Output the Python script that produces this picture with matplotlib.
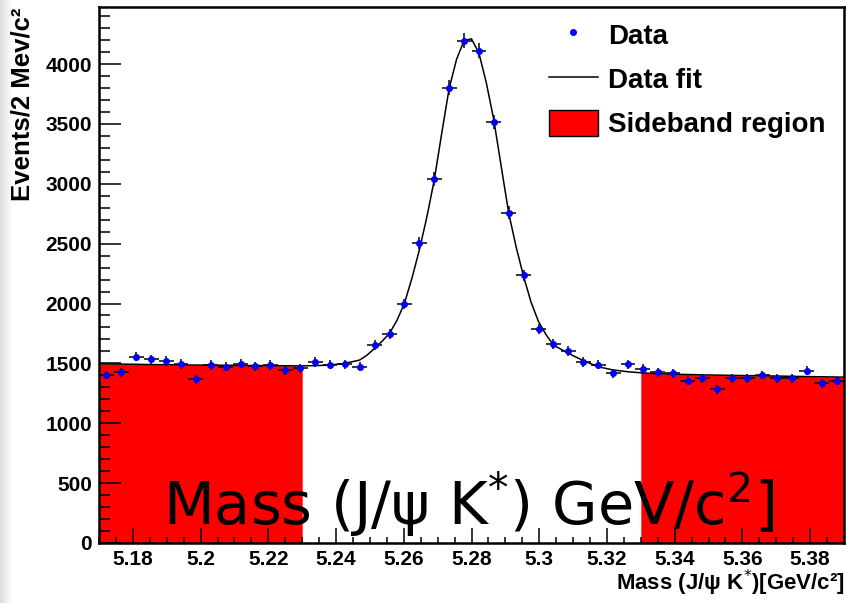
import numpy as np
import matplotlib
matplotlib.use("Agg")
import matplotlib.pyplot as plt
from matplotlib.lines import Line2D
from matplotlib.patches import Patch
from matplotlib.ticker import MultipleLocator

# histogram: 50 bins between 5.17 and 5.39 GeV
x_lo, x_hi, n_bins = 5.17, 5.39, 50
counts = [1403, 1425, 1556, 1534, 1520, 1495, 1367, 1486, 1472, 1497,
          1475, 1486, 1445, 1458, 1511, 1489, 1492, 1472, 1653, 1745,
          1996, 2508, 3040, 3802, 4195, 4111, 3518, 2758, 2236, 1785,
          1665, 1603, 1511, 1489, 1417, 1492, 1453, 1425, 1417, 1356,
          1375, 1283, 1375, 1375, 1403, 1375, 1375, 1439, 1334, 1353]

# fit curve (bin centres + a few extra points in the peak)
fit_at_centres = [1495, 1494, 1492, 1490, 1489, 1487, 1486, 1485, 1484, 1483,
                  1482, 1481, 1480, 1479, 1481, 1486, 1500, 1528, 1626, 1751,
                  2002, 2447, 3031, 3797, 4195, 4090, 3532, 2753, 2224, 1848,
                  1653, 1584, 1523, 1472, 1445, 1430, 1420, 1414, 1410, 1407,
                  1404, 1402, 1400, 1398, 1396, 1394, 1392, 1390, 1388, 1386]
fit_extra_x = [5.17, 5.2492, 5.2536, 5.2580, 5.2624, 5.2668, 5.2712, 5.2756,
               5.2800, 5.2844, 5.2888, 5.2932, 5.2976, 5.3020, 5.39]
fit_extra_y = [1496, 1570, 1685, 1860, 2210, 2720, 3420, 4040,
               4210, 3840, 3140, 2470, 2010, 1740, 1385]

sidebands = [(5.17, 5.23), (5.33, 5.39)]

edges = np.linspace(x_lo, x_hi, n_bins + 1)
centres = 0.5 * (edges[:-1] + edges[1:])
half_w = 0.5 * (edges[1] - edges[0])
counts = np.array(counts)

fit_x = np.concatenate([centres, fit_extra_x])
fit_y = np.concatenate([fit_at_centres, fit_extra_y])
order = np.argsort(fit_x)
fit_x, fit_y = fit_x[order], fit_y[order]

plt.rcParams['font.family'] = ['Liberation Sans', 'DejaVu Sans']

fig = plt.figure(figsize=(8.46, 6.03), dpi=100)

# grey strip at the far left (screenshot edge)
axg = fig.add_axes([0, 0, 12 / 846, 1])
axg.imshow(np.linspace(0.86, 1.0, 50).reshape(1, -1), cmap='gray', vmin=0, vmax=1,
           aspect='auto', extent=[0, 1, 0, 1])
axg.axis('off')

ax = fig.add_axes([99 / 846, 1 - 543 / 603, (844 - 99) / 846, (543 - 7) / 603])

# sideband regions filled under the fit
for a, b in sidebands:
    m = (fit_x > a) & (fit_x < b)
    xs = np.concatenate([[a], fit_x[m], [b]])
    ys = np.concatenate([[np.interp(a, fit_x, fit_y)], fit_y[m], [np.interp(b, fit_x, fit_y)]])
    ax.fill_between(xs, 0, ys, color='#ff0000', lw=0, zorder=1)

ax.plot(fit_x, fit_y, color='black', lw=1.1, zorder=3)
ax.errorbar(centres, counts, xerr=half_w, yerr=np.sqrt(counts), fmt='o', ms=4,
            mfc='#0000ff', mec='#0000ff', ecolor='black', elinewidth=1.1,
            capsize=0, zorder=4)

ax.set_xlim(x_lo, x_hi)
ax.set_ylim(0, 4476)
ax.xaxis.set_minor_locator(MultipleLocator(0.005))
ax.yaxis.set_major_locator(MultipleLocator(500))
ax.yaxis.set_minor_locator(MultipleLocator(100))
ax.set_xticks([5.18, 5.20, 5.22, 5.24, 5.26, 5.28, 5.30, 5.32, 5.34, 5.36, 5.38])
ax.set_xticklabels(['5.18', '5.2', '5.22', '5.24', '5.26', '5.28', '5.3',
                    '5.32', '5.34', '5.36', '5.38'])
ax.tick_params(axis='y', which='major', direction='in', length=16, width=1.1, pad=5,
               labelsize=15)
ax.tick_params(axis='y', which='minor', direction='in', length=8, width=1.1)
ax.tick_params(axis='x', which='major', direction='in', length=11, width=1.1, pad=5,
               labelsize=15)
ax.tick_params(axis='x', which='minor', direction='in', length=4.5, width=1.1)
for lab in ax.get_xticklabels() + ax.get_yticklabels():
    lab.set_fontweight('bold')
for s in ax.spines.values():
    s.set_linewidth(1.8)

# legend
handles = [Line2D([], [], marker='o', ls='none', color='#0000ff', ms=4),
           Line2D([], [], color='black', lw=1.1),
           Patch(facecolor='#ff0000', edgecolor='black', lw=1)]
ax.legend(handles, ['Data', 'Data fit', 'Sideband region'], loc='upper left',
          bbox_to_anchor=(549 / 846, 1 - 21 / 603), bbox_transform=fig.transFigure,
          frameon=False, borderpad=0, borderaxespad=0, handlelength=1.76,
          handleheight=1.1, handletextpad=0.36, labelspacing=0.56,
          prop={'family': 'Liberation Sans', 'weight': 'bold', 'size': 20})

# axis titles
fig.text(845 / 846, 1 - 590 / 603, 'Mass (J/ψ K$^{*}$)[GeV/c²]', ha='right',
         va='baseline', fontsize=16, fontweight='bold')
fig.text(22 / 846, 1 - 8 / 603, 'Events/2 Mev/c²', rotation=90, ha='center',
         va='top', fontsize=18.5, fontweight='bold')

# big overlaid title
fig.text(163 / 846, 1 - 525 / 603, 'Mass (J/ψ K$^{*}$) GeV/c$^{2}$]',
         family='DejaVu Sans', fontsize=42.5, ha='left', va='baseline', zorder=10)

fig.savefig('out.png', dpi=100)
